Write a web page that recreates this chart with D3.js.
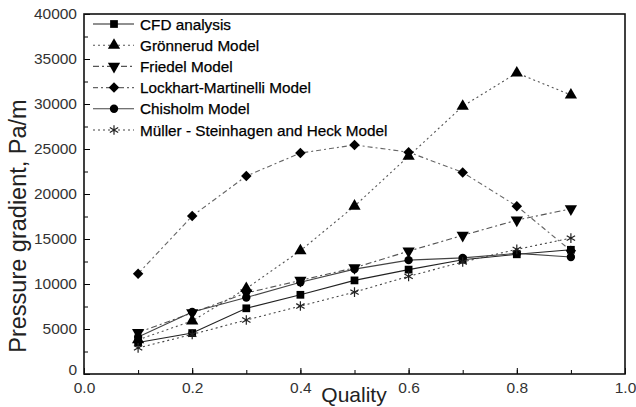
<!DOCTYPE html>
<html>
<head>
<meta charset="utf-8">
<script src="https://cdn.jsdelivr.net/npm/d3@7"></script>
<style>
  body { margin: 0; background: #fff; }
  text { font-family: Arial, "Liberation Sans", sans-serif; }
</style>
</head>
<body>
<div id="chart"></div>
<script>
var quality = [0.1, 0.2, 0.3, 0.4, 0.5, 0.6, 0.7, 0.8, 0.9];

var cfd        = [3500, 4550, 7300, 8800, 10400, 11600, 12700, 13300, 13800];
var gronnerud  = [3800, 5900, 9500, 13700, 18650, 24200, 29750, 33450, 31000];
var friedel    = [4600, 6800, 9000, 10400, 11800, 13650, 15400, 17100, 18350];
var lockhart   = [11150, 17550, 22000, 24550, 25450, 24650, 22400, 18650, 13700];
var chisholm   = [4100, 6900, 8500, 10200, 11650, 12650, 12900, 13400, 13000];
var muller     = [2900, 4400, 6000, 7550, 9100, 10850, 12450, 13850, 15100];

var seriesNames = ["CFD analysis", "Grönnerud Model", "Friedel Model",
  "Lockhart-Martinelli Model", "Chisholm Model", "Müller - Steinhagen and Heck Model"];

var xTicks = [0, 0.2, 0.4, 0.6, 0.8, 1.0];
var yTicks = [0, 5000, 10000, 15000, 20000, 25000, 30000, 35000, 40000];

var W = 636, H = 407;
var pL = 84, pR = 625, pT = 14, pB = 374;

var svg = d3.select("#chart").append("svg")
  .attr("width", W).attr("height", H);

var x = d3.scaleLinear().domain([0, 1]).range([pL, pR]);
var y = d3.scaleLinear().domain([0, 40000]).range([pB, pT]);

// series styling
var styles = [
  {data: cfd, dash: null, stroke: "#222", sym: d3.symbolSquare, size: 60, rot: 0},
  {data: gronnerud, dash: "2,3", stroke: "#555", sym: d3.symbolTriangle, size: 65, rot: 0},
  {data: friedel, dash: "6,3,2,3", stroke: "#555", sym: d3.symbolTriangle, size: 65, rot: 180},
  {data: lockhart, dash: "5,3,2,3", stroke: "#666", sym: d3.symbolSquare, size: 55, rot: 45},
  {data: chisholm, dash: null, stroke: "#444", sym: d3.symbolCircle, size: 55, rot: 0},
  {data: muller, dash: "2,3", stroke: "#444", sym: d3.symbolAsterisk, size: 65, rot: 0}
];

// axes: ticks inward
var minorX = d3.range(0.1, 1.0, 0.1);
svg.append("g")
  .attr("transform", "translate(0," + pB + ")")
  .call(d3.axisBottom(x).tickValues(minorX).tickSize(-4).tickFormat(""))
  .call(function(g) { g.select(".domain").remove(); });
svg.append("g")
  .attr("transform", "translate(0," + pB + ")")
  .call(d3.axisBottom(x).tickValues(xTicks).tickSize(-6).tickPadding(8).tickFormat(d3.format(".1f")))
  .call(function(g) {
    g.select(".domain").remove();
    g.selectAll("text").attr("font-size", 15.5).attr("fill", "#333");
  });

var minorY = d3.range(2500, 40000, 5000);
svg.append("g")
  .attr("transform", "translate(" + pL + ",0)")
  .call(d3.axisLeft(y).tickValues(minorY).tickSize(-4).tickFormat(""))
  .call(function(g) { g.select(".domain").remove(); });
svg.append("g")
  .attr("transform", "translate(" + pL + ",0)")
  .call(d3.axisLeft(y).tickValues(yTicks).tickSize(-6).tickPadding(7).tickFormat(d3.format("d")))
  .call(function(g) {
    g.select(".domain").remove();
    g.selectAll("text").attr("font-size", 15.5).attr("fill", "#333");
    g.selectAll(".tick").filter(function(d) { return d === 0; })
      .select("text").attr("dy", "0.05em");
  });

// frame
svg.append("rect")
  .attr("x", pL).attr("y", pT)
  .attr("width", pR - pL).attr("height", pB - pT)
  .attr("fill", "none").attr("stroke", "#111").attr("stroke-width", 1.6);

// axis titles
svg.append("text")
  .attr("x", 354).attr("y", 402)
  .attr("text-anchor", "middle").attr("font-size", 21).attr("fill", "#222")
  .text("Quality");
svg.append("text")
  .attr("transform", "translate(26,226) rotate(-90)")
  .attr("text-anchor", "middle").attr("font-size", 23.5).attr("fill", "#222")
  .text("Pressure gradient, Pa/m");

var line = d3.line()
  .x(function(d, i) { return x(quality[i]); })
  .y(function(d) { return y(d); });

styles.forEach(function(s) {
  svg.append("path")
    .attr("d", line(s.data))
    .attr("fill", "none")
    .attr("stroke", s.stroke)
    .attr("stroke-width", 1.1)
    .attr("stroke-dasharray", s.dash);
});

function drawMarker(g, s, cx, cy) {
  var isAst = s.sym === d3.symbolAsterisk;
  g.append("path")
    .attr("d", d3.symbol().type(s.sym).size(s.size)())
    .attr("transform", "translate(" + cx + "," + cy + ") rotate(" + s.rot + ")")
    .attr("fill", isAst ? "none" : "#000")
    .attr("stroke", isAst ? "#222" : "none")
    .attr("stroke-width", 1.2);
}

styles.forEach(function(s) {
  var g = svg.append("g");
  s.data.forEach(function(d, i) { drawMarker(g, s, x(quality[i]), y(d)); });
});

// legend
var lg = svg.append("g");
styles.forEach(function(s, i) {
  var ly = 24 + i * 21.2;
  lg.append("line")
    .attr("x1", 93).attr("x2", 134).attr("y1", ly).attr("y2", ly)
    .attr("stroke", s.stroke).attr("stroke-width", 1.1)
    .attr("stroke-dasharray", s.dash);
  drawMarker(lg, s, 114, ly);
  lg.append("text")
    .attr("x", 140).attr("y", ly).attr("dy", "0.36em")
    .attr("font-size", 15.3).attr("fill", "#000")
    .attr("stroke", "#000").attr("stroke-width", 0.25)
    .text(seriesNames[i]);
});
</script>
</body>
</html>
